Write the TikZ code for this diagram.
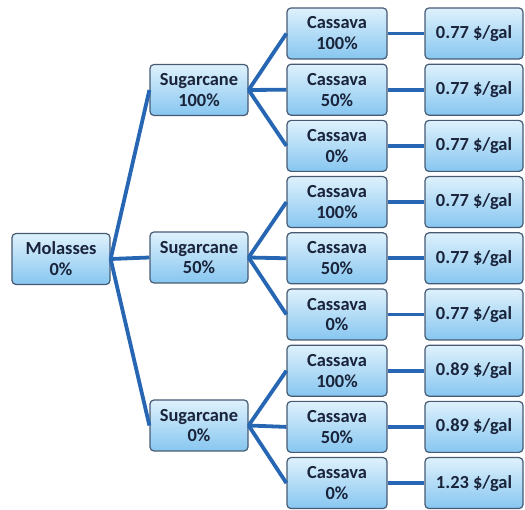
\documentclass[tikz,border=0pt]{standalone}
\usepackage{fontspec}
\setmainfont{Carlito}
\begin{document}
\begin{tikzpicture}[x=1bp,y=1bp,
  box/.style={draw=boxborder, line width=1.2bp, rounded corners=4bp,
    top color=boxtop, bottom color=boxbot, minimum height=51bp,
    align=center, font=\bfseries\fontsize{18.5}{21}\selectfont, text=txt, inner sep=1bp},
  lvl/.style={box, minimum width=98bp},
  conn/.style={draw=linkblue, line width=3.8bp}]
\definecolor{boxborder}{RGB}{70,90,115}
\definecolor{boxtop}{RGB}{222,241,252}
\definecolor{boxbot}{RGB}{135,198,240}
\definecolor{txt}{RGB}{25,35,58}
\definecolor{linkblue}{RGB}{38,102,178}
\useasboundingbox (0,0) rectangle (525,510);
\node[lvl] (m) at (61,251) {Molasses\\0\%};
\node[lvl] (s1) at (199,420) {Sugarcane\\100\%};
\node[lvl] (s2) at (199,252.5) {Sugarcane\\50\%};
\node[lvl] (s3) at (199,84.5) {Sugarcane\\0\%};
\foreach \i/\lab/\pr in {0/100/0.77,1/50/0.77,2/0/0.77,3/100/0.77,4/50/0.77,5/0/0.77,6/100/0.89,7/50/0.89,8/0/1.23}{
  \pgfmathsetmacro{\yy}{476.5-56.2*\i}
  \node[lvl, minimum width=100bp] (c\i) at (337,\yy) {Cassava\\\lab\%};
  \node[lvl] (p\i) at (474,\yy) {\pr{} \$/gal};
  \draw[conn] (c\i.east) -- (p\i.west);
}
\foreach \s in {s1,s2,s3}{\draw[conn] (m.east) -- (\s.west);}
\foreach \i in {0,1,2}{\draw[conn] (s1.east) -- (c\i.west);}
\foreach \i in {3,4,5}{\draw[conn] (s2.east) -- (c\i.west);}
\foreach \i in {6,7,8}{\draw[conn] (s3.east) -- (c\i.west);}
\end{tikzpicture}
\end{document}
